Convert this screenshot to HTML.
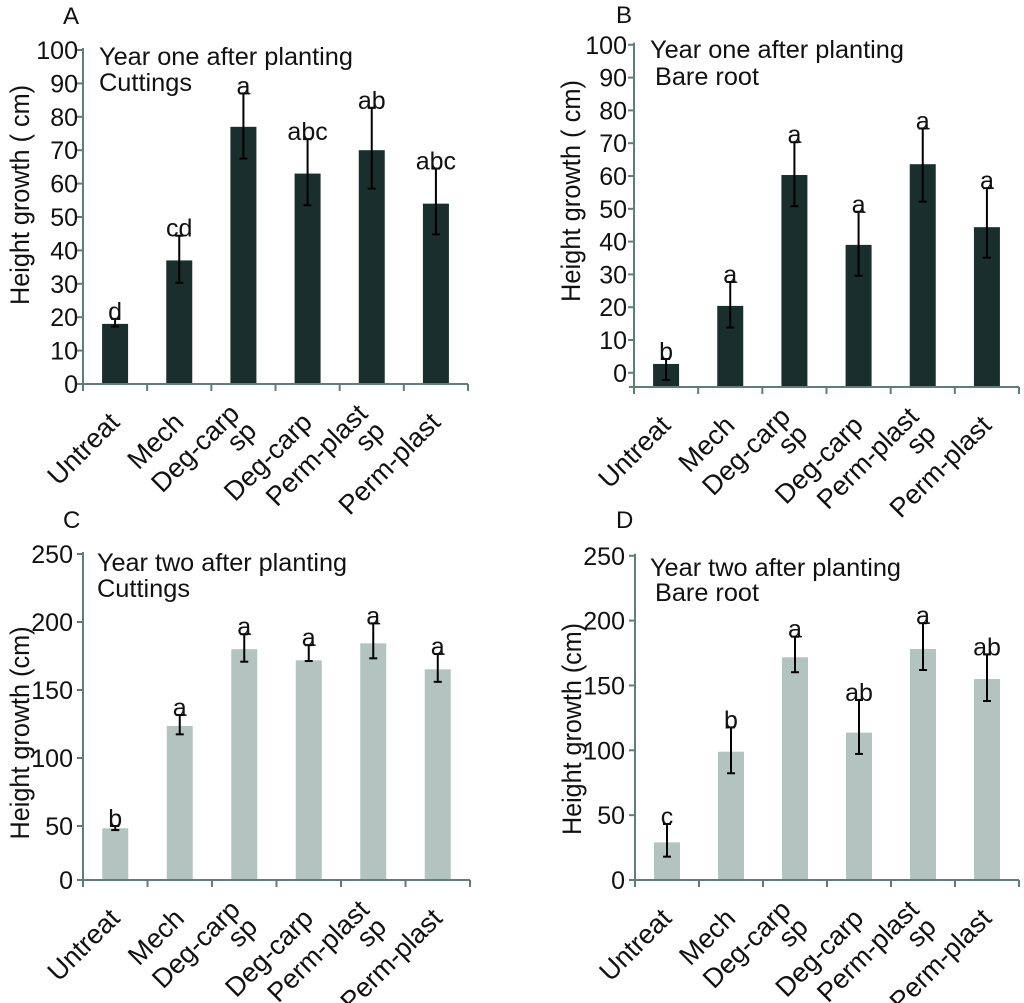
<!DOCTYPE html>
<html><head><meta charset="utf-8">
<style>
html,body{margin:0;padding:0;background:#fff;}
svg{display:block;font-family:"Liberation Sans",Arial,sans-serif;}
</style></head>
<body>
<svg id="chart" width="1024" height="1003" viewBox="0 0 1024 1003" xmlns="http://www.w3.org/2000/svg"></svg>
<script>
const categories = [["Untreat"],["Mech"],["Deg-carp","sp"],["Deg-carp"],["Perm-plast","sp"],["Perm-plast"]];

const aMeans = [18, 37, 77, 63, 70, 54];
const aLow = [17.2, 30.3, 67.5, 53.5, 58.5, 44.8];
const aHigh = [19.5, 44.4, 87, 73.3, 82.7, 64.5];
const aLetters = ["d","cd","a","abc","ab","abc"];
const aTicks = [0,10,20,30,40,50,60,70,80,90,100];

const bMeans = [2.7, 20.4, 60.3, 39, 63.6, 44.4];
const bLow = [-2.2, 13.8, 50.8, 29.6, 52.2, 35.1];
const bHigh = [4.2, 27.7, 70.3, 49.1, 74.5, 56.3];
const bLetters = ["b","a","a","a","a","a"];
const bTicks = [0,10,20,30,40,50,60,70,80,90,100];

const cMeans = [48.3, 123.5, 180, 171.8, 184.3, 165.2];
const cLow = [47, 117.4, 170.8, 171.3, 173.3, 156];
const cHigh = [50, 131.6, 191, 183, 199, 176.5];
const cLetters = ["b","a","a","a","a","a"];
const cTicks = [0,50,100,150,200,250];

const dMeans = [29, 98.9, 171.7, 113.6, 178.1, 155];
const dLow = [18, 82.3, 160.2, 97.2, 161.9, 138];
const dHigh = [43.2, 117.7, 187.6, 138.8, 198, 174];
const dLetters = ["c","b","a","ab","a","ab"];
const dTicks = [0,50,100,150,200,250];

const NS = "http://www.w3.org/2000/svg";
const svg = document.getElementById("chart");
const AX = "#5f7d7b";
const FS = 25;

function mk(tag, attrs, parent){
  const e = document.createElementNS(NS, tag);
  for (const k in attrs) e.setAttribute(k, attrs[k]);
  (parent||svg).appendChild(e);
  return e;
}

const panels = [
  {id:"a", letter:"A", lx:63, ly:24, x0:83, x1:468, y0:384, k:3.34, axisY:384, means:aMeans, low:aLow, high:aHigh, letters:aLetters, ticks:aTicks, fill:"#1a2e2e",
   t1:["Year one after planting",99,65,254], t2:["Cuttings",99,91,93], yt:["Height growth ( cm)",20,195,220], tickRight:78},
  {id:"b", letter:"B", lx:616, ly:23, x0:634, x1:1019, y0:372.8, k:3.28, axisY:387, means:bMeans, low:bLow, high:bHigh, letters:bLetters, ticks:bTicks, fill:"#1a2e2e",
   t1:["Year one after planting",650,58,254], t2:["Bare root",655,85,104], yt:["Height growth ( cm)",571,191,222], tickRight:627},
  {id:"c", letter:"C", lx:63, ly:528, x0:83, x1:470, y0:894, k:1.36, axisY:880, means:cMeans, low:cLow, high:cHigh, letters:cLetters, ticks:cTicks, fill:"#b3c3c0",
   t1:["Year two after planting",97,571,250], t2:["Cuttings",97,597,93], yt:["Height growth (cm)",20,733,213], tickRight:73},
  {id:"d", letter:"D", lx:616, ly:528, x0:635, x1:1019, y0:880, k:1.297, axisY:880, means:dMeans, low:dLow, high:dHigh, letters:dLetters, ticks:dTicks, fill:"#b3c3c0",
   t1:["Year two after planting",650,576,251], t2:["Bare root",655,601,104], yt:["Height growth (cm)",572,729,212], tickRight:625}
];

panels.forEach(p => {
  const g = mk("g", {});
  
  
  const yScale = v => p.y0 - v * p.k;
  const n = categories.length;
  const bw = (p.x1 - p.x0) / n;
  const xCenter = i => p.x0 + bw * (i + 0.5);

  const pl = mk("text", {x:p.lx, y:p.ly, "font-size":24, fill:"#111"}, g);
  pl.textContent = p.letter;
  
  

  p.means.forEach((v,i) => {
    const top = yScale(v);
    const r = mk("rect", {x:xCenter(i)-13, y:top, width:26, height:Math.max(0,p.axisY-top), fill:p.fill}, g);
    
    
  });

  const ya = mk("line", {x1:p.x0, y1:yScale(p.ticks[p.ticks.length-1])-2, x2:p.x0, y2:p.axisY, stroke:AX, "stroke-width":2}, g);
  
  
  const xa = mk("line", {x1:p.x0-5, y1:p.axisY, x2:p.x1, y2:p.axisY, stroke:AX, "stroke-width":2}, g);
  
  
  for (let i=0;i<=n;i++){
    const t = mk("line", {x1:p.x0+bw*i, y1:p.axisY, x2:p.x0+bw*i, y2:p.axisY+7, stroke:AX, "stroke-width":2}, g);
    
    
  }
  p.ticks.forEach(tv => {
    const y = Math.min(yScale(tv), p.axisY);
    const tm = mk("line", {x1:p.x0-6, y1:y, x2:p.x0, y2:y, stroke:AX, "stroke-width":2}, g);
    
    
    const tl = mk("text", {x:p.tickRight, y:y+9, "font-size":FS, "text-anchor":"end", fill:"#111"}, g);
    tl.textContent = tv;
    
    
  });

  p.means.forEach((v,i) => {
    const cx = xCenter(i), yl = yScale(p.low[i]), yh = yScale(p.high[i]);
    const eg = mk("g", {stroke:"#000", "stroke-width":2}, g);
    
    
    mk("line", {x1:cx, y1:yh, x2:cx, y2:yl}, eg);
    mk("line", {x1:cx-4, y1:yh, x2:cx+4, y2:yh}, eg);
    mk("line", {x1:cx-4, y1:yl, x2:cx+4, y2:yl}, eg);
    const lt = mk("text", {x:cx, y:yh+1, "font-size":FS, "text-anchor":"middle", fill:"#111"}, g);
    lt.textContent = p.letters[i];
    
    
  });

  categories.forEach((c,i) => {
    const ax = xCenter(i) + 6, ay = p.axisY + 40;
    const t = mk("text", {x:ax, y:ay, "font-size":27, "text-anchor":"end", fill:"#111", transform:`rotate(-45 ${ax} ${ay})`}, g);
    
    
    if (c.length === 1) { t.textContent = c[0]; }
    else {
      const s1 = mk("tspan", {x:ax, dy:"-0.45em"}, t); s1.textContent = c[0];
      const s2 = mk("tspan", {x:ax, dy:"0.9em"}, t); s2.textContent = c[1];
    }
  });

  const t1 = mk("text", {x:p.t1[1], y:p.t1[2], "font-size":FS, fill:"#111", textLength:p.t1[3], lengthAdjust:"spacingAndGlyphs"}, g);
  t1.textContent = p.t1[0];
  
  
  const t2 = mk("text", {x:p.t2[1], y:p.t2[2], "font-size":FS, fill:"#111", textLength:p.t2[3], lengthAdjust:"spacingAndGlyphs"}, g);
  t2.textContent = p.t2[0];
  
  
  const yt = mk("text", {x:p.yt[1], y:p.yt[2], "font-size":27, "text-anchor":"middle", fill:"#111", "dominant-baseline":"central", textLength:p.yt[3], lengthAdjust:"spacingAndGlyphs", transform:`rotate(-90 ${p.yt[1]} ${p.yt[2]})`}, g);
  yt.textContent = p.yt[0];
  
  
});
</script>
</body></html>
